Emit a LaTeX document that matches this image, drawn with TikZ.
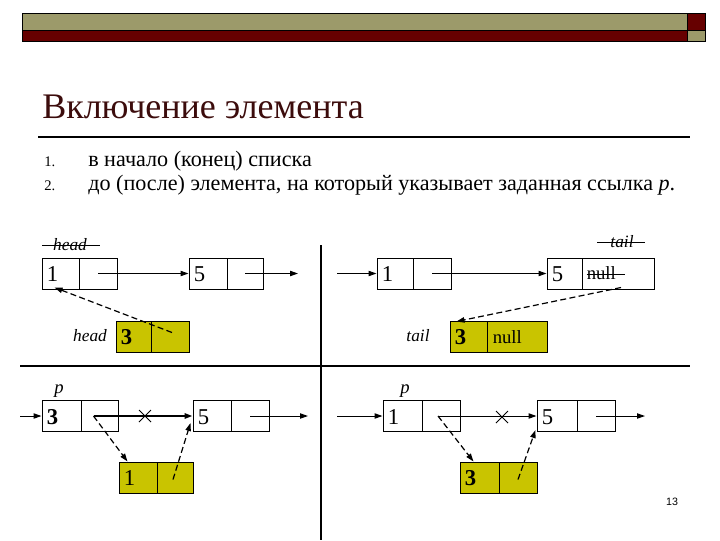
\documentclass[tikz,border=0pt]{standalone}
\usepackage{fontspec}
\setmainfont{Liberation Serif}
\newfontfamily\arialf{Liberation Sans}
\usetikzlibrary{arrows.meta,calc}
\definecolor{barolive}{RGB}{156,154,106}
\definecolor{barred}{RGB}{102,0,0}
\definecolor{titlecol}{RGB}{60,12,12}
\definecolor{cellyel}{RGB}{201,196,0}
\newdimen\pu \pu=0.75pt
\tikzset{
  cellbox/.style={draw, line width=0.75pt, inner sep=0pt, minimum height=31\pu},
  yel/.style={cellbox, fill=cellyel},
  num/.style={font=\fontsize{17}{17}\selectfont, inner sep=0pt, anchor=west},
  bnum/.style={font=\fontsize{17}{17}\selectfont\bfseries, inner sep=0pt, anchor=west},
  nulltxt/.style={font=\fontsize{14}{14}\selectfont, inner sep=0pt, anchor=west},
  itl/.style={font=\fontsize{13}{13}\selectfont\itshape, inner sep=0pt},
  arr/.style={line width=0.75pt, -{Triangle[length=6pt,width=4pt]}},
  darr/.style={line width=0.9pt, dashed, dash pattern=on 4.5pt off 2.5pt, -{Triangle[length=6pt,width=4pt]}},
  xmark/.style={line width=0.75pt},
}
\begin{document}
\begin{tikzpicture}[x=0.75pt,y=-0.75pt]
\useasboundingbox (0,0) rectangle (720,540);
% top bar
\fill[barolive] (22,13) rectangle (687,30);
\fill[barred] (22,30) rectangle (687,41);
\fill[barred] (687,13) rectangle (705,30);
\fill[barolive] (687,30) rectangle (705,41);
\draw[line width=0.75pt] (22,13) rectangle (705,41);
\draw[line width=0.75pt] (22,30) -- (705,30);
\draw[line width=0.75pt] (687,13) -- (687,41);
% title
\node[anchor=base west, inner sep=0pt, text=titlecol, font=\fontsize{27}{27}\selectfont] (title) at (42,118) {Включение элемента};
\draw[line width=0.9pt] (38,137) -- (690,137);
% list
\node[anchor=base west, inner sep=0pt, font=\fontsize{11}{11}\selectfont] (l1n) at (44,166) {1.};
\node[anchor=base west, inner sep=0pt, font=\fontsize{16.6}{16.6}\selectfont] (l1) at (88,166) {в начало (конец) списка};
\node[anchor=base west, inner sep=0pt, font=\fontsize{11}{11}\selectfont] (l2n) at (44,190) {2.};
\node[anchor=base west, inner sep=0pt, font=\fontsize{16.6}{16.6}\selectfont] (l2) at (88,190) {до (после) элемента, на который указывает заданная ссылка \textit{p}.};
% separators
\draw[line width=0.9pt] (321,245) -- (321,540);
\draw[line width=0.9pt] (20,366) -- (690,366);

% ===== top-left =====
\node[cellbox, minimum width=37\pu] (n1a) at (60.5,273.5) {};
\node[cellbox, minimum width=38\pu] (n1b) at (98,273.5) {};
\node[cellbox, minimum width=38\pu] (n5a) at (208,273.5) {};
\node[cellbox, minimum width=36\pu] (n5b) at (245,273.5) {};
\node[num] (t1) at ($(n1a.west)+(5,1)$) {1};
\node[num] (t5) at ($(n5a.west)+(5,1)$) {5};
\node[yel, minimum width=35\pu] (y1a) at (133.5,336.5) {};
\node[yel, minimum width=38\pu] (y1b) at (170,336.5) {};
\node[bnum] (t3) at ($(y1a.west)+(5,1)$) {3};
\node[itl] (hd) at (70,245) {head};
\draw[line width=0.75pt] (42,245) -- (100,245);
\node[itl] (hd2) at (90,336) {head};
\coordinate (e1) at (298,273.5);
\draw[arr] (n1b.center) -- (n5a.west);
\draw[arr] (n5b.center) -- (e1);
\draw[darr] ($(y1b.center)+(2,-4)$) -- ($(n1a.south west)+(13,-2)$);

% ===== top-right =====
\coordinate (s2) at (337,273.5);
\node[cellbox, minimum width=36\pu] (m1a) at (395,273.5) {};
\node[cellbox, minimum width=38\pu] (m1b) at (432,273.5) {};
\node[cellbox, minimum width=35\pu] (m5a) at (564.5,273.5) {};
\node[cellbox, minimum width=72\pu] (m5b) at (618,273.5) {};
\node[num] (u1) at ($(m1a.west)+(5,1)$) {1};
\node[num] (u5) at ($(m5a.west)+(5,1)$) {5};
\node[nulltxt] (unull) at ($(m5b.west)+(5,0)$) {null};
\draw[line width=0.75pt] ($(unull.west)+(0,1)$) -- ($(unull.east)+(9,1)$);
\node[yel, minimum width=37\pu] (yra) at (468.5,336.5) {};
\node[yel, minimum width=60\pu] (yrb) at (517,336.5) {};
\node[bnum] (u3) at ($(yra.west)+(5,1)$) {3};
\node[nulltxt] (unull2) at ($(yrb.west)+(6,1)$) {null};
\node[itl] (tl) at (622,242) {tail};
\draw[line width=0.75pt] (597,242) -- (645,242);
\node[itl] (tl2) at (418,336) {tail};
\draw[arr] (s2) -- (m1a.west);
\draw[arr] (m1b.center) -- (m5a.west);
\draw[darr] ($(m5b.south)+(3,-2)$) -- ($(yra.north west)+(7,1)$);

% ===== bottom-left =====
\coordinate (s3) at (20,416);
\node[cellbox, minimum width=39\pu] (p3a) at (61.5,416) {};
\node[cellbox, minimum width=37\pu] (p3b) at (99.5,416) {};
\node[cellbox, minimum width=38\pu] (q5a) at (212,416) {};
\node[cellbox, minimum width=38\pu] (q5b) at (250,416) {};
\node[bnum] (v3) at ($(p3a.west)+(5,1)$) {3};
\node[num] (v5) at ($(q5a.west)+(5,1)$) {5};
\node[yel, minimum width=38\pu] (yla) at (138,477.5) {};
\node[yel, minimum width=36\pu] (ylb) at (175,477.5) {};
\node[num] (v1) at ($(yla.west)+(5,1)$) {1};
\node[itl, font=\fontsize{14}{14}\selectfont\itshape] (pp1) at (59,391) {p};
\coordinate (e3) at (308,416);
\coordinate (o3) at ($(p3b.center)+(-6,0)$);
\draw[arr] (s3) -- (p3a.west);
\draw[arr, line width=1.5pt] (o3) -- (q5a.west);
\draw[xmark] (139,410) -- (151,422) (139,422) -- (151,410);
\draw[arr] (q5b.center) -- (e3);
\draw[darr] (o3) -- ($(yla.north west)+(9,0)$);
\draw[darr] ($(ylb.center)+(-2,2)$) -- ($(q5a.west)+(-2,7)$);

% ===== bottom-right =====
\coordinate (s4) at (337,416);
\node[cellbox, minimum width=39\pu] (r1a) at (402.5,416) {};
\node[cellbox, minimum width=38\pu] (r1b) at (441,416) {};
\node[cellbox, minimum width=40\pu] (r5a) at (557,416) {};
\node[cellbox, minimum width=38\pu] (r5b) at (596,416) {};
\node[num] (w1) at ($(r1a.west)+(5,1)$) {1};
\node[num] (w5) at ($(r5a.west)+(5,1)$) {5};
\node[yel, minimum width=39\pu] (yqa) at (479.5,477.5) {};
\node[yel, minimum width=38\pu] (yqb) at (518,477.5) {};
\node[bnum] (w3) at ($(yqa.west)+(5,1)$) {3};
\node[itl, font=\fontsize{14}{14}\selectfont\itshape] (pp2) at (405,391) {p};
\coordinate (e4) at (645,416);
\coordinate (o4) at ($(r1b.center)+(-3,0)$);
\draw[arr] (s4) -- (r1a.west);
\draw[arr] (o4) -- (r5a.west);
\draw[xmark] (496,411) -- (508,423) (496,423) -- (508,411);
\draw[arr] (r5b.center) -- (e4);
\draw[darr] (o4) -- ($(yqa.north)+(-6,0)$);
\draw[darr] ($(yqb.center)+(0,2)$) -- ($(r5a.south west)+(-1,-2)$);

% page number
\node[font=\arialf\fontsize{8}{8}\selectfont, inner sep=0pt] (pg) at (672,502) {13};
\end{tikzpicture}
\end{document}
